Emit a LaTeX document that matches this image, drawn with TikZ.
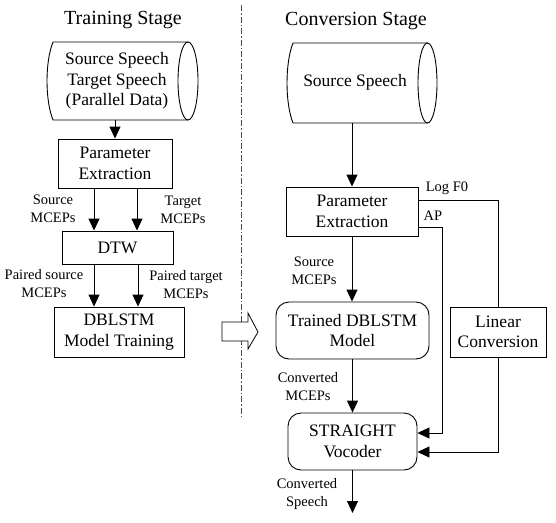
\documentclass[tikz,border=0pt]{standalone}
\usepackage{fontspec}
\setmainfont{Liberation Serif}
\usetikzlibrary{arrows.meta}
\begin{document}
\begin{tikzpicture}[x=1pt,y=-1pt,line width=0.9pt,
  tip/.style={-{Triangle[length=12pt,width=11pt]}},
  box/.style={draw,rectangle,inner sep=0pt,align=center,font=\fontsize{17.5}{20.5}\selectfont},
  rbox/.style={box,rounded corners=13pt},
  cylnode/.style={rectangle,inner sep=0pt,align=center,font=\fontsize{17.5}{20.5}\selectfont},
  lab/.style={align=center,inner sep=0pt,font=\fontsize{14.5}{18}\selectfont},
  ttl/.style={inner sep=0pt,font=\fontsize{20}{24}\selectfont},
  divider/.style={line width=0.6pt,black!70,dash pattern=on 6pt off 2pt on 1.5pt off 2pt}
]
\useasboundingbox (0,0) rectangle (556,522);

% titles
\node[ttl] (t1) at (123,20) {Training Stage};
\node[ttl] (t2) at (356,21) {Conversion Stage};

% divider
\draw[divider] (241,5) -- (241,417);

% ---------- training stage ----------
\draw (188,42) -- (53,42) .. controls (45,62) and (45,100) .. (53,120) -- (188,120);
\draw (188,81) ellipse [x radius=10, y radius=39];
\node[cylnode,minimum width=151,minimum height=78] (c1) at (122.5,81) {};
\node[cylnode] (c1t) at (117,81) {Source Speech\\Target Speech\\(Parallel Data)};

\node[box,minimum width=114,minimum height=49] (p1) at (115,163.5) {Parameter\\Extraction};
\node[box,minimum width=111,minimum height=33] (dtw) at (117.5,247.5) {DTW};
\node[box,minimum width=130,minimum height=50] (dbl) at (119,332) {DBLSTM\\Model Training};

\draw[tip] (p1.north |- c1.south) -- (p1.north);
\draw[tip] ([xshift=-21pt]p1.south) -- ([xshift=-21pt]p1.south |- dtw.north);
\draw[tip] ([xshift=22pt]p1.south) -- ([xshift=22pt]p1.south |- dtw.north);
\draw[tip] ([xshift=-23.5pt]dtw.south) -- ([xshift=-23.5pt]dtw.south |- dbl.north);
\draw[tip] ([xshift=20.5pt]dtw.south) -- ([xshift=20.5pt]dtw.south |- dbl.north);

\node[lab] (l1) at (53,209) {Source\\MCEPs};
\node[lab] (l2) at (183,210) {Target\\MCEPs};
\node[lab] (l3) at (44,284) {Paired source\\MCEPs};
\node[lab] (l4) at (186,285) {Paired target\\MCEPs};

% block arrow
\draw[fill=white,line width=0.8pt] (222,322) -- (248,322) -- (248,313) -- (258,332) -- (248,349) -- (248,341) -- (222,341) -- cycle;

% ---------- conversion stage ----------
\draw (428,43) -- (293,43) .. controls (285,63) and (285,103) .. (293,123) -- (428,123);
\draw (427.5,83) ellipse [x radius=9.5, y radius=40];
\node[cylnode,minimum width=152,minimum height=80] (c2) at (361,83) {};
\node[cylnode] (c2t) at (355,82) {Source Speech};

\node[box,minimum width=132,minimum height=49] (p2) at (352,211.5) {Parameter\\Extraction};
\node[rbox,minimum width=153,minimum height=57] (tr) at (352.5,330.5) {Trained DBLSTM\\Model};
\node[box,minimum width=96,minimum height=50] (lin) at (498,332) {Linear\\Conversion};
\node[rbox,minimum width=129,minimum height=57] (st) at (352.5,441.5) {STRAIGHT\\Vocoder};
\coordinate (out) at (352,513);

\draw[tip] (p2.north |- c2.south) -- (p2.north);
\draw[tip] (p2.south) -- (p2.south |- tr.north);
\draw[tip] (tr.south) -- (tr.south |- st.north);
\draw[tip] (st.south) -- (st.south |- out);
\draw ([yshift=11.5pt]p2.east) -| (lin.north);
\draw[tip] ([yshift=-15.5pt]p2.east) -- ++(24,0) |- ([yshift=8.5pt]st.east);
\draw[tip] (lin.south) |- ([yshift=-10.5pt]st.east);

\node[lab] (lf0) at (447,188) {Log F0};
\node[lab] (lap) at (433,216) {AP};
\node[lab] (l5) at (314,271) {Source\\MCEPs};
\node[lab] (l6) at (308,387) {Converted\\MCEPs};
\node[lab] (l7) at (307,494) {Converted\\Speech};
\end{tikzpicture}
\end{document}
